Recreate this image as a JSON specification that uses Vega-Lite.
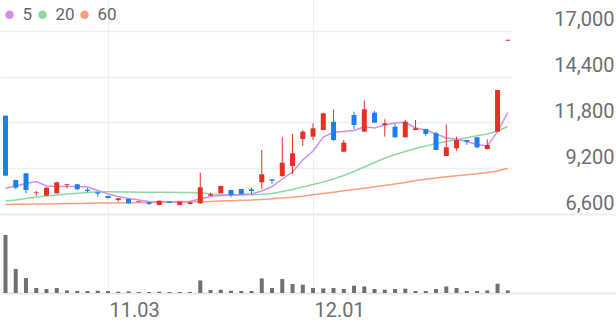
{
  "$schema": "https://vega.github.io/schema/vega-lite/v6.json",
  "padding": 0,
  "background": "white",
  "spacing": 0,
  "config": {"view": {"stroke": null}, "font": "Roboto", "concat": {"spacing": 0}, "legend": {"labelFont": "Roboto", "labelColor": "#666666", "labelFontSize": 17}},
  "resolve": {"scale": {"x": "independent", "y": "independent"}},
  "datasets": {
    "d": [
      {"i":0,"open":12190,"high":12190,"low":8777,"close":8780,"vol":5830000,"5":8060,"20":7339,"60":7140},
      {"i":1,"open":8530,"high":8550,"low":8005,"close":8095,"vol":2400000,"5":8191,"20":7396,"60":7151},
      {"i":2,"open":8913,"high":8913,"low":7776,"close":7964,"vol":1500000,"5":8333,"20":7481,"60":7157},
      {"i":3,"open":7800,"high":7907,"low":7640,"close":7840,"vol":500000,"5":8447,"20":7566,"60":7168},
      {"i":4,"open":7640,"high":8120,"low":7620,"close":8095,"vol":400000,"5":8191,"20":7623,"60":7174},
      {"i":5,"open":7776,"high":8430,"low":7760,"close":8402,"vol":500000,"5":8163,"20":7680,"60":7180},
      {"i":6,"open":8240,"high":8310,"low":8060,"close":8290,"vol":260000,"5":8163,"20":7737,"60":7191},
      {"i":7,"open":8290,"high":8300,"low":7950,"close":8005,"vol":200000,"5":8163,"20":7776,"60":7202},
      {"i":8,"open":7980,"high":8072,"low":7833,"close":7907,"vol":200000,"5":8134,"20":7822,"60":7214},
      {"i":9,"open":7833,"high":7867,"low":7584,"close":7755,"vol":230000,"5":7936,"20":7867,"60":7219},
      {"i":10,"open":7620,"high":7640,"low":7480,"close":7510,"vol":200000,"5":7737,"20":7867,"60":7225},
      {"i":11,"open":7396,"high":7500,"low":7300,"close":7492,"vol":130000,"5":7595,"20":7850,"60":7231},
      {"i":12,"open":7452,"high":7460,"low":7200,"close":7208,"vol":160000,"5":7481,"20":7850,"60":7242},
      {"i":13,"open":7320,"high":7330,"low":7270,"close":7280,"vol":100000,"5":7396,"20":7839,"60":7248},
      {"i":14,"open":7265,"high":7280,"low":7110,"close":7170,"vol":100000,"5":7310,"20":7833,"60":7259},
      {"i":15,"open":7111,"high":7360,"low":7100,"close":7356,"vol":130000,"5":7299,"20":7833,"60":7265},
      {"i":16,"open":7300,"high":7310,"low":7215,"close":7225,"vol":100000,"5":7299,"20":7833,"60":7276},
      {"i":17,"open":7111,"high":7300,"low":7100,"close":7300,"vol":100000,"5":7310,"20":7828,"60":7282},
      {"i":18,"open":7170,"high":7300,"low":7165,"close":7265,"vol":100000,"5":7322,"20":7822,"60":7293},
      {"i":19,"open":7208,"high":8947,"low":7170,"close":8117,"vol":1260000,"5":7452,"20":7805,"60":7299},
      {"i":20,"open":7640,"high":7810,"low":7630,"close":7720,"vol":300000,"5":7595,"20":7737,"60":7316},
      {"i":21,"open":7776,"high":8200,"low":7770,"close":8191,"vol":330000,"5":7651,"20":7708,"60":7339},
      {"i":22,"open":7964,"high":7980,"low":7550,"close":7680,"vol":230000,"5":7680,"20":7680,"60":7356},
      {"i":23,"open":8020,"high":8030,"low":7710,"close":7720,"vol":200000,"5":7708,"20":7680,"60":7379},
      {"i":24,"open":8000,"high":8117,"low":7720,"close":7900,"vol":200000,"5":7737,"20":7691,"60":7396},
      {"i":25,"open":8402,"high":10237,"low":8004,"close":8856,"vol":1460000,"5":7907,"20":7720,"60":7430},
      {"i":26,"open":8572,"high":8580,"low":8305,"close":8494,"vol":500000,"5":8163,"20":7765,"60":7470},
      {"i":27,"open":8760,"high":10959,"low":8720,"close":9515,"vol":1400000,"5":8589,"20":7879,"60":7509},
      {"i":28,"open":9328,"high":11146,"low":8873,"close":10050,"vol":900000,"5":8987,"20":7992,"60":7549},
      {"i":29,"open":10862,"high":11374,"low":10464,"close":11277,"vol":830000,"5":9669,"20":8134,"60":7606},
      {"i":30,"open":10993,"high":11754,"low":10805,"close":11470,"vol":500000,"5":10180,"20":8276,"60":7691},
      {"i":31,"open":11374,"high":12350,"low":11370,"close":12323,"vol":460000,"5":10976,"20":8419,"60":7765},
      {"i":32,"open":11845,"high":12550,"low":10750,"close":10805,"vol":500000,"5":11243,"20":8589,"60":7839},
      {"i":33,"open":10140,"high":10805,"low":10130,"close":10652,"vol":400000,"5":11288,"20":8788,"60":7918},
      {"i":34,"open":12226,"high":12414,"low":11413,"close":11658,"vol":730000,"5":11345,"20":9015,"60":7992},
      {"i":35,"open":11277,"high":13039,"low":11270,"close":12550,"vol":660000,"5":11561,"20":9271,"60":8066},
      {"i":36,"open":12357,"high":12450,"low":11780,"close":11789,"vol":400000,"5":11487,"20":9527,"60":8146},
      {"i":37,"open":11658,"high":11982,"low":10993,"close":11754,"vol":330000,"5":11658,"20":9765,"60":8220},
      {"i":38,"open":11561,"high":11715,"low":10950,"close":10959,"vol":400000,"5":11772,"20":9981,"60":8305},
      {"i":39,"open":10959,"high":11942,"low":10950,"close":11845,"vol":430000,"5":11811,"20":10152,"60":8390},
      {"i":40,"open":11374,"high":11942,"low":11370,"close":11470,"vol":200000,"5":11487,"20":10322,"60":8504},
      {"i":41,"open":11430,"high":11440,"low":11050,"close":11146,"vol":200000,"5":11374,"20":10464,"60":8572},
      {"i":42,"open":11186,"high":11277,"low":10230,"close":10237,"vol":400000,"5":11146,"20":10607,"60":8646},
      {"i":43,"open":9896,"high":11697,"low":9890,"close":10391,"vol":660000,"5":10919,"20":10720,"60":8714},
      {"i":44,"open":10334,"high":10993,"low":10197,"close":10805,"vol":500000,"5":10845,"20":10822,"60":8771},
      {"i":45,"open":10805,"high":10810,"low":10521,"close":10709,"vol":200000,"5":10720,"20":10930,"60":8828},
      {"i":46,"open":10959,"high":10965,"low":10334,"close":10391,"vol":200000,"5":10550,"20":11050,"60":8885},
      {"i":47,"open":10287,"high":10845,"low":10280,"close":10521,"vol":260000,"5":10464,"20":11146,"60":8958},
      {"i":48,"open":11277,"high":13647,"low":11277,"close":13647,"vol":930000,"5":11277,"20":11317,"60":9044},
      {"i":49,"open":16450,"high":16500,"low":16450,"close":16500,"vol":260000,"5":12357,"20":11573,"60":9197}
    ]
  },
  "vconcat": [
    {
      "width": 512,
      "height": 214,
      "data": {"name": "d"},
      "encoding": {
        "x": {
          "field": "i", "type": "quantitative",
          "scale": {"domain": [-0.537, 49.41], "nice": false, "zero": false, "padding": 0},
          "axis": {"values": [10, 30], "grid": true, "gridColor": "#efefef", "gridWidth": 1, "labels": false, "ticks": false, "domain": false, "title": null}
        }
      },
      "layer": [
        {
          "transform": [{"fold": ["60", "20", "5"], "as": ["ma", "v"]}],
          "mark": {"type": "line", "strokeWidth": 1.5},
          "encoding": {
            "y": {
              "field": "v", "type": "quantitative",
              "scale": {"domain": [6600, 18760], "nice": false, "zero": false},
              "axis": {"orient": "right", "values": [6600, 9200, 11800, 14400, 17000], "labelExpr": "format(datum.value, ',')", "grid": true, "gridColor": "#efefef", "gridWidth": 1.5, "ticks": false, "domain": false, "labelPadding": 102, "labelAlign": "right", "labelBaseline": "alphabetic", "labelOffset": -5, "labelFontSize": 20, "labelColor": "#6e6e6e", "title": null}
            },
            "color": {
              "field": "ma", "type": "nominal",
              "scale": {"domain": ["5", "20", "60"], "range": ["#d08ef2", "#8fd9a0", "#f9a07a"]},
              "legend": {
                "orient": "none", "legendX": 1, "legendY": 6, "direction": "horizontal", "title": null,
                "symbolType": "circle", "symbolSize": 16, "symbolStrokeWidth": 4.5,
                "labelFontSize": 17, "labelColor": "#666666", "labelOffset": 4.5, "columnPadding": -2, "padding": 0,
                "encode": {"labels": {"update": {"fontSize": {"value": 17}}}}
              }
            }
          }
        },
        {
          "mark": {"type": "rule", "strokeWidth": 1},
          "encoding": {
            "y": {"field": "low", "type": "quantitative", "axis": {"orient": "right", "values": [6600, 9200, 11800, 14400, 17000], "labelExpr": "format(datum.value, ',')", "grid": true, "gridColor": "#efefef", "gridWidth": 1.5, "ticks": false, "domain": false, "labelPadding": 102, "labelAlign": "right", "labelBaseline": "alphabetic", "labelOffset": -5, "labelFontSize": 20, "labelColor": "#6e6e6e", "title": null}},
            "y2": {"field": "high"},
            "color": {"condition": {"test": "datum.close >= datum.open", "value": "#e63122"}, "value": "#1b7ff0"}
          }
        },
        {
          "mark": {"type": "bar", "size": 5},
          "encoding": {
            "y": {"field": "open", "type": "quantitative", "axis": {"orient": "right", "values": [6600, 9200, 11800, 14400, 17000], "labelExpr": "format(datum.value, ',')", "grid": true, "gridColor": "#efefef", "gridWidth": 1.5, "ticks": false, "domain": false, "labelPadding": 102, "labelAlign": "right", "labelBaseline": "alphabetic", "labelOffset": -5, "labelFontSize": 20, "labelColor": "#6e6e6e", "title": null}},
            "y2": {"field": "close"},
            "color": {"condition": {"test": "datum.close >= datum.open", "value": "#e63122"}, "value": "#1b7ff0"}
          }
        }
      ]
    },
    {
      "width": 616,
      "height": 79,
      "data": {"name": "d"},
      "mark": {"type": "bar", "size": 4, "color": "#707070"},
      "encoding": {
        "x": {
          "field": "i", "type": "quantitative",
          "scale": {"domain": [-0.537, 59.555], "nice": false, "zero": false, "padding": 0},
          "axis": {"values": [10, 30], "labelExpr": "datum.value == 10 ? '11.03' : '12.01'", "labelAlign": "left", "labelOffset": 1, "labelPadding": 7, "labelFontSize": 20, "labelColor": "#6e6e6e", "grid": true, "gridColor": "#efefef", "ticks": false, "domain": true, "domainColor": "#e8e8e8", "domainWidth": 2, "title": null}
        },
        "y": {
          "field": "vol", "type": "quantitative",
          "scale": {"domain": [0, 7930000], "nice": false},
          "axis": {"orient": "right", "values": [7930000], "grid": true, "gridColor": "#ececec", "gridWidth": 2, "labels": false, "ticks": false, "domain": false, "title": null}
        }
      }
    }
  ]
}
